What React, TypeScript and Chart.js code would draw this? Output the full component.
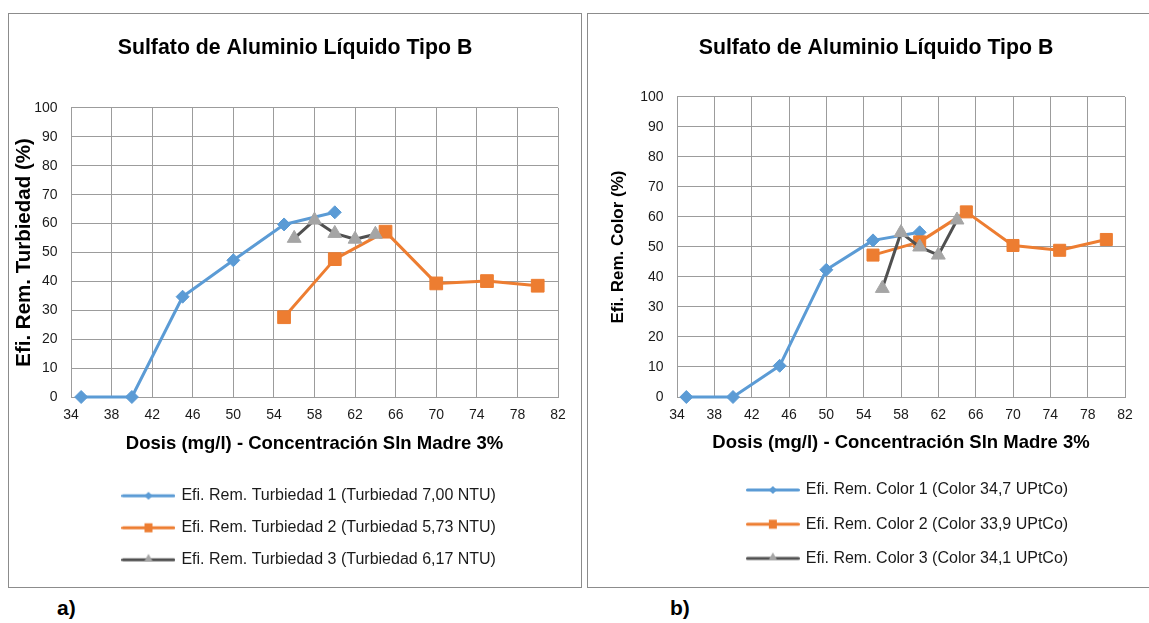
import React, { useEffect, useRef } from "react";
import { Chart, registerables } from "chart.js";

Chart.register(...registerables);

// ---------- data ----------
const xTickValues = [34, 38, 42, 46, 50, 54, 58, 62, 66, 70, 74, 78, 82];
const yTickValues = [0, 10, 20, 30, 40, 50, 60, 70, 80, 90, 100];

const chartTitle = "Sulfato de Aluminio Líquido Tipo B";
const xAxisTitle = "Dosis (mg/l) - Concentración Sln Madre 3%";

// a) Turbidity removal
const turbLabels = [
  "Efi. Rem. Turbiedad 1 (Turbiedad 7,00 NTU)",
  "Efi. Rem. Turbiedad 2 (Turbiedad 5,73 NTU)",
  "Efi. Rem. Turbiedad 3 (Turbiedad 6,17 NTU)",
];
const turbDose1 = [35, 40, 45, 50, 55, 60];
const turbEff1 = [0, 0, 34.7, 47.3, 59.7, 63.9];
const turbDose2 = [55, 60, 65, 70, 75, 80];
const turbEff2 = [27.6, 47.7, 57.2, 39.3, 40.1, 38.5];
const turbDose3 = [56, 58, 60, 62, 64];
const turbEff3 = [54.9, 61.2, 56.6, 54.6, 56.3];

// b) Color removal
const colorLabels = [
  "Efi. Rem. Color 1 (Color 34,7 UPtCo)",
  "Efi. Rem. Color 2 (Color 33,9 UPtCo)",
  "Efi. Rem. Color 3 (Color 34,1 UPtCo)",
];
const colorDose1 = [35, 40, 45, 50, 55, 60];
const colorEff1 = [0, 0, 10.4, 42.4, 52.2, 54.9];
const colorDose2 = [55, 60, 65, 70, 75, 80];
const colorEff2 = [47.3, 51.7, 61.7, 50.5, 48.9, 52.5];
const colorDose3 = [56, 58, 60, 62, 64];
const colorEff3 = [36.2, 54.8, 50.0, 47.3, 59.0];

// ---------- style ----------
const FONT = "'Liberation Sans', Arial, sans-serif";
const BLUE = "#5B9BD5";
const ORANGE = "#ED7D31";
const DARK = "#505050";
const GRAYM = "#A5A5A5";
const GRID = "#9C9C9C";
const TEXT = "#1a1a1a";

function makeIcon(kind: number): HTMLCanvasElement {
  const c = document.createElement("canvas");
  c.width = 54;
  c.height = 16;
  const ctx = c.getContext("2d")!;
  const mid = 8;
  ctx.lineCap = "round";
  ctx.lineWidth = 3;
  ctx.strokeStyle = kind === 0 ? BLUE : kind === 1 ? ORANGE : DARK;
  ctx.beginPath();
  ctx.moveTo(1.5, mid);
  ctx.lineTo(52.5, mid);
  ctx.stroke();
  if (kind === 0) {
    ctx.fillStyle = BLUE;
    ctx.beginPath();
    ctx.moveTo(27, mid - 4);
    ctx.lineTo(31, mid);
    ctx.lineTo(27, mid + 4);
    ctx.lineTo(23, mid);
    ctx.closePath();
    ctx.fill();
  } else if (kind === 1) {
    ctx.fillStyle = ORANGE;
    ctx.fillRect(23, mid - 4.5, 8, 9);
  } else {
    ctx.fillStyle = GRAYM;
    ctx.beginPath();
    ctx.moveTo(27, mid - 6);
    ctx.lineTo(31.5, mid + 2);
    ctx.lineTo(22.5, mid + 2);
    ctx.closePath();
    ctx.fill();
  }
  return c;
}

const legendShift = {
  id: "legendShift",
  afterLayout(chart: any, _args: any, opts: any) {
    const lg = chart.legend;
    if (lg && opts && opts.dx) {
      lg.left += opts.dx;
      lg.right += opts.dx;
    }
  },
};

interface Cfg {
  labels: string[];
  doses: number[][];
  effs: number[][];
  yTitle: string;
  yTitleSize: number;
  yTitlePad: number;
  yWidth: number;
  rightPad: number;
  titleBottom: number;
  xHeight: number;
  xTitlePad: number;
  legendPad: number;
  bottomPad: number;
  legendDx: number;
  sq: number;
}

function buildChart(canvas: HTMLCanvasElement, cfg: Cfg) {
  const icons = [makeIcon(0), makeIcon(1), makeIcon(2)];
  const styles = [
    { color: BLUE, point: BLUE, style: "rectRot", r: 6.5 },
    { color: ORANGE, point: ORANGE, style: "rect", r: cfg.sq },
    { color: DARK, point: GRAYM, style: "triangle", r: 8 },
  ];
  const datasets = cfg.labels.map((label, i) => ({
    label,
    data: cfg.doses[i].map((x, j) => ({ x, y: cfg.effs[i][j] })),
    borderColor: styles[i].color,
    backgroundColor: styles[i].point,
    pointBackgroundColor: styles[i].point,
    pointBorderColor: styles[i].point,
    pointBorderWidth: 1,
    pointStyle: styles[i].style,
    pointRadius: styles[i].r,
    borderWidth: 3,
    borderJoinStyle: "round",
    borderCapStyle: "round",
    tension: 0,
    clip: false,
    order: 3 - i,
  }));

  return new Chart(canvas, {
    type: "line",
    data: { datasets } as any,
    plugins: [legendShift as any],
    options: {
      responsive: false,
      animation: false,
      events: [],
      layout: { padding: { left: 0, right: 0, top: 0, bottom: cfg.bottomPad } },
      scales: {
        x: {
          type: "linear",
          min: 34,
          max: 82,
          afterBuildTicks: (s: any) => {
            s.ticks = xTickValues.map((v) => ({ value: v }));
          },
          afterFit: (s: any) => {
            s.height = cfg.xHeight;
          },
          ticks: {
            padding: 10,
            maxRotation: 0,
            autoSkip: false,
            color: TEXT,
            font: { size: 14, family: FONT },
          },
          grid: { color: GRID, drawTicks: false, lineWidth: 1 },
          border: { color: GRID },
          title: {
            display: true,
            text: xAxisTitle,
            color: "#000",
            font: { size: 18.5, weight: "bold", family: FONT },
            padding: { top: 0, bottom: cfg.xTitlePad },
          },
        },
        y: {
          type: "linear",
          min: 0,
          max: 100,
          afterBuildTicks: (s: any) => {
            s.ticks = yTickValues.map((v) => ({ value: v }));
          },
          afterFit: (s: any) => {
            s.width = cfg.yWidth;
          },
          ticks: {
            padding: 13.5,
            color: TEXT,
            font: { size: 14, family: FONT },
          },
          grid: { color: GRID, drawTicks: false, lineWidth: 1 },
          border: { color: GRID },
          title: {
            display: true,
            text: cfg.yTitle,
            color: "#000",
            font: { size: cfg.yTitleSize, weight: "bold", family: FONT },
            padding: { top: cfg.yTitlePad, bottom: 0 },
          },
        },
        yPad: {
          type: "linear",
          position: "right",
          min: 0,
          max: 100,
          display: true,
          ticks: { display: false },
          grid: { display: false, drawTicks: false },
          border: { display: false },
          afterFit: (s: any) => {
            s.width = cfg.rightPad;
          },
        },
      } as any,
      plugins: {
        title: {
          display: true,
          text: chartTitle,
          color: "#000",
          font: { size: 21.3, weight: "bold", family: FONT },
          padding: { top: 21.2, bottom: cfg.titleBottom },
        },
        legend: {
          display: true,
          position: "bottom",
          fullSize: false,
          labels: {
            usePointStyle: true,
            pointStyleWidth: 50,
            padding: cfg.legendPad,
            color: TEXT,
            font: { size: 16, family: FONT },
            generateLabels: (chart: any) =>
              chart.data.datasets.map((ds: any, i: number) => ({
                text: ds.label,
                pointStyle: icons[i],
                fillStyle: "transparent",
                strokeStyle: "transparent",
                lineWidth: 0,
                hidden: false,
                datasetIndex: i,
                fontColor: TEXT,
              })),
          },
        },
        tooltip: { enabled: false },
        legendShift: { dx: cfg.legendDx },
      } as any,
    },
  } as any);
}

const leftCfg: Cfg = {
  labels: turbLabels,
  doses: [turbDose1, turbDose2, turbDose3],
  effs: [turbEff1, turbEff2, turbEff3],
  yTitle: "Efi. Rem. Turbiedad (%)",
  yTitleSize: 20.5,
  yTitlePad: 2.7,
  yWidth: 62,
  rightPad: 23,
  titleBottom: 47.2,
  xHeight: 74.8,
  xTitlePad: 16.7,
  legendPad: 16,
  bottomPad: 9.2,
  legendDx: -4.8,
  sq: 9,
};

const rightCfg: Cfg = {
  labels: colorLabels,
  doses: [colorDose1, colorDose2, colorDose3],
  effs: [colorEff1, colorEff2, colorEff3],
  yTitle: "Efi. Rem. Color (%)",
  yTitleSize: 17,
  yTitlePad: 19.8,
  yWidth: 89,
  rightPad: 39,
  titleBottom: 36.2,
  xHeight: 66.8,
  xTitlePad: 9.7,
  legendPad: 18.2,
  bottomPad: 10.6,
  legendDx: 7,
  sq: 8.5,
};

function ChartBox({ cfg, left, width }: { cfg: Cfg; left: number; width: number }) {
  const ref = useRef<HTMLCanvasElement | null>(null);
  useEffect(() => {
    if (!ref.current) return;
    const ch = buildChart(ref.current, cfg);
    return () => ch.destroy();
  }, []);
  return (
    <div
      style={{
        position: "absolute",
        left,
        top: 13,
        width,
        height: 573,
        border: "1px solid #8c8c8c",
        background: "#fff",
      }}
    >
      <canvas ref={ref} width={width} height={573} style={{ display: "block" }} />
    </div>
  );
}

export default function App() {
  const lab: React.CSSProperties = {
    position: "absolute",
    top: 597,
    fontFamily: "'Liberation Sans Narrow', 'Liberation Sans', Arial, sans-serif",
    fontWeight: "bold",
    fontSize: 21,
    lineHeight: "22px",
    color: "#000",
  };
  return (
    <div
      style={{
        position: "absolute",
        left: 0,
        top: 0,
        width: 1149,
        height: 623,
        overflow: "hidden",
        background: "#fff",
      }}
    >
      <ChartBox cfg={leftCfg} left={8} width={572} />
      <ChartBox cfg={rightCfg} left={587} width={576} />
      <div style={{ ...lab, left: 57 }}>a)</div>
      <div style={{ ...lab, left: 670 }}>b)</div>
    </div>
  );
}
